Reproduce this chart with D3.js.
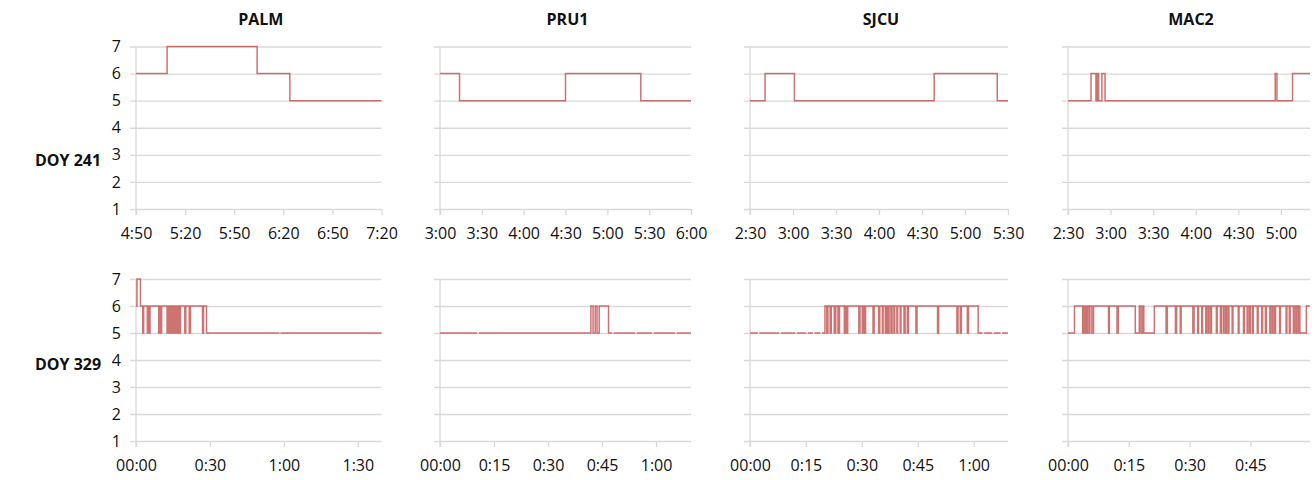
<html>
<head>
<script src="https://d3js.org/d3.v7.min.js"></script>
<style>
  body { margin: 0; background: #fff; }
  text { font-family: "Open Sans", "Noto Sans", sans-serif; fill: #111; }
  .title, .rowlabel { font-weight: bold; font-size: 16px; }
  .tick text { font-size: 16px; }
</style>
</head>
<body>
<svg id="chart" width="1314" height="480"></svg>
<script>
// ---- data ----
const stations = ["PALM", "PRU1", "SJCU", "MAC2"];
const days = ["DOY 241", "DOY 329"];
const yTicks = [1, 2, 3, 4, 5, 6, 7];

// x axis tick labels per panel (row DOY 241, then row DOY 329)
const ticks241 = [
    ["4:50", "5:20", "5:50", "6:20", "6:50", "7:20"],
    ["3:00", "3:30", "4:00", "4:30", "5:00", "5:30", "6:00"],
    ["2:30", "3:00", "3:30", "4:00", "4:30", "5:00", "5:30"],
    ["2:30", "3:00", "3:30", "4:00", "4:30", "5:00"]
];
const ticks329 = [
    ["00:00", "0:30", "1:00", "1:30"],
    ["00:00", "0:15", "0:30", "0:45", "1:00"],
    ["00:00", "0:15", "0:30", "0:45", "1:00"],
    ["00:00", "0:15", "0:30", "0:45"]
];
// x extent of each panel, in minutes
const domains241 = [[290, 440], [180, 360], [150, 330], [150, 320.5]];
const domains329 = [[0, 99.6], [0, 69.7], [0, 69.2], [0, 59.7]];

// step series: [minute, value] at each change
const palm241 = [[290, 6], [309, 7], [364, 6], [384, 5], [440, 5]];
const pru1_241 = [[180, 6], [194, 5], [270, 6], [324, 5], [360, 5]];
const sjcu241 = [[150, 5], [160.5, 6], [181, 5], [278.5, 6], [322.5, 5], [330, 5]];
const mac2_241 = [[150, 5], [166.2, 6], [169.7, 5], [170.7, 6], [171.6, 5], [173.9, 6], [176.1, 5],
    [296, 6], [297.2, 5], [308.2, 6], [320.5, 6]];

const palm329 = [[0, 6], [0.4, 7], [1.8, 6], [2.7, 5], [3.1, 6], [4.6, 5], [4.9, 6], [5.3, 5], [5.7, 6],
    [9.2, 5], [9.6, 6], [9.9, 5], [10.4, 6], [12.6, 5], [13.0, 6], [13.5, 5], [13.8, 6], [14.3, 5],
    [14.6, 6], [15.0, 5], [15.6, 6], [16.0, 5], [16.3, 6], [16.8, 5], [17.2, 6], [17.7, 5], [18.0, 6],
    [19.8, 5], [20.2, 6], [21.6, 5], [22.1, 6], [27.0, 5], [27.4, 6], [28.6, 5], [99.6, 5]];
const pru1_329 = [[0, 5], [41.9, 6], [42.5, 5], [43.1, 6], [43.6, 5], [44.2, 6], [46.8, 5], [69.7, 5]];
const sjcu329 = [[0, 5], [20.1, 6], [20.6, 5], [20.9, 6], [21.5, 5], [21.8, 6], [22.6, 5], [23.0, 6],
    [23.6, 5], [24.0, 6], [25.3, 5], [25.6, 6], [25.9, 5], [26.2, 6], [29.2, 5], [29.5, 6], [30.1, 5],
    [30.4, 6], [30.8, 5], [31.0, 6], [33.0, 5], [33.3, 6], [34.5, 5], [34.8, 6], [35.5, 5], [35.7, 6],
    [36.3, 5], [36.6, 6], [37.0, 5], [37.3, 6], [37.8, 5], [38.1, 6], [38.6, 5], [38.8, 6], [39.4, 5],
    [39.6, 6], [40.3, 5], [40.5, 6], [41.3, 5], [41.6, 6], [42.2, 5], [42.5, 6], [44.5, 5], [44.8, 6],
    [50.3, 5], [50.6, 6], [55.5, 5], [55.8, 6], [56.4, 5], [56.7, 6], [58.3, 5], [58.6, 6], [61.2, 5], [69.2, 5]];
const mac2_329 = [[0, 5], [1.6, 6], [3.6, 5], [3.8, 6], [4.1, 5], [4.3, 6], [4.6, 5], [4.8, 6], [5.2, 5],
    [5.4, 6], [5.9, 5], [6.3, 6], [10.0, 5], [10.2, 6], [12.1, 5], [12.4, 6], [16.6, 5], [17.6, 6],
    [18.0, 5], [18.4, 6], [18.7, 5], [21.3, 6], [24.2, 5], [24.5, 6], [26.5, 5], [26.8, 6], [27.7, 5],
    [27.9, 6], [30.8, 5], [31.1, 6], [32.0, 5], [32.2, 6], [33.0, 5], [33.2, 6], [34.0, 5], [34.2, 6],
    [34.6, 5], [34.8, 6], [35.2, 5], [35.4, 6], [36.6, 5], [36.8, 6], [37.6, 5], [37.8, 6], [38.3, 5],
    [38.5, 6], [38.9, 5], [39.1, 6], [39.5, 5], [39.7, 6], [40.5, 5], [40.7, 6], [42.0, 5], [42.2, 6],
    [43.3, 5], [43.5, 6], [44.2, 5], [44.4, 6], [44.8, 5], [45.0, 6], [45.5, 5], [45.7, 6], [46.7, 5],
    [46.9, 6], [47.8, 5], [48.0, 6], [48.7, 5], [48.9, 6], [49.8, 5], [50.0, 6], [50.4, 5], [50.6, 6],
    [51.0, 5], [51.2, 6], [52.2, 5], [52.4, 6], [53.8, 5], [54.0, 6], [54.6, 5], [54.8, 6], [55.6, 5],
    [55.8, 6], [56.2, 5], [56.4, 6], [56.8, 5], [57.0, 6], [57.2, 5], [58.8, 6], [59.7, 6]];

// short data gaps (minutes) in the DOY 329 records
const gaps329 = [
    [[58.2, 58.6]],
    [[10.4, 10.8], [47.8, 48.2], [54.2, 54.6], [58.9, 59.3], [65.3, 65.7]],
    [[2.1, 2.5], [7.9, 8.3], [12.2, 12.6], [15.1, 15.5], [16.9, 17.3], [18.9, 19.3], [62.4, 62.8], [65.0, 65.4], [67.2, 67.6]],
    []
];

const series = [
    [palm241, pru1_241, sjcu241, mac2_241],
    [palm329, pru1_329, sjcu329, mac2_329]
];

// ---- layout ----
const colX = [[136, 381.5], [440, 691], [750, 1008], [1068, 1310]];
const rowY = [[209, 46.5], [441, 279]];
const rowLabelY = [166, 370];

const svg = d3.select("#chart");

function toMin(s) {
    const p = s.split(":");
    return +p[0] * 60 + +p[1];
}

stations.forEach((name, c) => {
    svg.append("text")
        .attr("class", "title")
        .attr("x", (colX[c][0] + colX[c][1]) / 2 + 2)
        .attr("y", 25)
        .attr("text-anchor", "middle")
        .text(name);
});

days.forEach((d, r) => {
    svg.append("text")
        .attr("class", "rowlabel")
        .attr("x", 35)
        .attr("y", rowLabelY[r])
        .text(d);
});

[0, 1].forEach(r => {
    const doms = r === 0 ? domains241 : domains329;
    const tks = r === 0 ? ticks241 : ticks329;

    stations.forEach((name, c) => {
        const x = d3.scaleLinear().domain(doms[c]).range(colX[c]);
        const y = d3.scaleLinear().domain([1, 7]).range(rowY[r]);
        const w = colX[c][1] - colX[c][0];
        const g = svg.append("g");

        // horizontal gridlines (+ small left ticks)
        const ya = g.append("g")
            .attr("transform", `translate(${colX[c][0] - 6},0)`)
            .call(d3.axisLeft(y).tickValues(yTicks).tickFormat(d3.format("d"))
                .tickSize(-(w + 6)).tickPadding(9).tickSizeOuter(0));
        ya.select(".domain").remove();
        ya.selectAll(".tick line").attr("stroke", "#d9d9d9").attr("stroke-width", 1.3);
        if (c > 0) ya.selectAll(".tick text").remove();

        // vertical axis line
        g.append("line")
            .attr("x1", colX[c][0]).attr("x2", colX[c][0])
            .attr("y1", y(7)).attr("y2", y(1) + 6)
            .attr("stroke", "#d9d9d9").attr("stroke-width", 1.3);

        // x axis
        const xa = g.append("g")
            .attr("transform", `translate(0,${y(1)})`)
            .call(d3.axisBottom(x)
                .tickValues(tks[c].map(toMin))
                .tickFormat((v, i) => tks[c][i])
                .tickSize(6).tickPadding(13).tickSizeOuter(0));
        xa.select(".domain").remove();
        xa.selectAll(".tick line").attr("stroke", "#d9d9d9").attr("stroke-width", 1.3);

        // mask out data gaps
        const maskId = `m${r}${c}`;
        const mask = svg.append("mask").attr("id", maskId);
        mask.append("rect")
            .attr("x", colX[c][0] - 5).attr("y", y(7.3))
            .attr("width", w + 10).attr("height", y(1) - y(7.3))
            .attr("fill", "white");
        const gp = r === 1 ? gaps329[c] : [];
        mask.selectAll("rect.gap")
            .data(gp)
            .join("rect")
            .attr("class", "gap")
            .attr("x", d => x(d[0]))
            .attr("width", d => x(d[1]) - x(d[0]))
            .attr("y", y(7.3))
            .attr("height", y(1) - y(7.3))
            .attr("fill", "black");

        const line = d3.line()
            .x(d => x(d[0]))
            .y(d => y(d[1]))
            .curve(d3.curveStepAfter);

        g.append("path")
            .datum(series[r][c])
            .attr("d", line)
            .attr("mask", `url(#${maskId})`)
            .attr("fill", "none")
            .attr("stroke", "#c0504d")
            .attr("stroke-opacity", 0.8)
            .attr("stroke-width", 1.5);
    });
});
</script>
</body>
</html>
